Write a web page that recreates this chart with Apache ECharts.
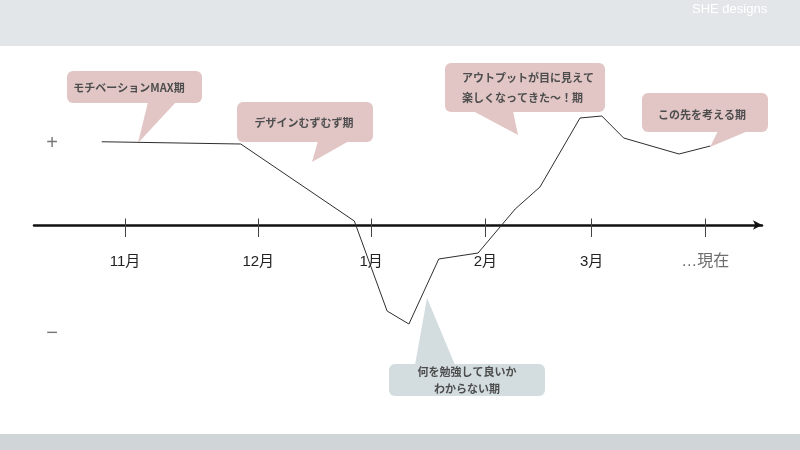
<!DOCTYPE html>
<html><head><meta charset="utf-8">
<script src="https://cdn.jsdelivr.net/npm/echarts@6/dist/echarts.min.js"></script>
<style>html,body{margin:0;padding:0;background:#fff}#chart{width:800px;height:450px}</style>
</head><body><div id="chart"></div>
<script>
// ---- data ----
const monthLabels = ['11月', '12月', '1月', '2月', '3月', '…現在'];
const monthPositions = [12.5, 30.8, 46.3, 62.0, 76.6, 92.2];          // timeline position (0-100)
const curveX = [9.3, 28.4, 44.0, 48.5, 51.5, 55.6, 61.0, 66.1, 69.5, 75.0, 78.0, 81.0, 88.6, 92.9];
const curveY = [3.33, 3.24, 0.16, -3.44, -3.96, -1.36, -1.12, 0.64, 1.52, 4.28, 4.36, 3.48, 2.84, 3.16];
const signLabels = ['+', '−'];
const signValues = [3.28, -4.32];
const signX = 2.5;
const calloutTexts = [
  'モチベーションMAX期',
  'デザインむずむず期',
  'アウトプットが目に見えて\n楽しくなってきた〜！期',
  'この先を考える期',
  '何を勉強して良いか\nわからない期'
];
const brandText = 'SHE designs';

// ---- chart ----
const FONT = '"Liberation Sans", "Noto Sans CJK JP", sans-serif';
const PINK = '#e2c6c6';
const BLUEGRAY = '#d3dcdf';

function callout(box, tail, text, fill, tx, ty, align, lineHeight) {
  return {
    type: 'group', silent: true, z: 10,
    children: [
      { type: 'polygon', shape: { points: tail }, style: { fill: fill } },
      { type: 'rect', shape: { x: box[0], y: box[1], width: box[2], height: box[3], r: 6 }, style: { fill: fill } },
      { type: 'text', style: {
          text: text, x: tx, y: ty, fill: '#4d4d4d',
          font: 'bold 11px "Noto Sans CJK JP", sans-serif',
          textAlign: align, textVerticalAlign: 'middle', lineHeight: lineHeight || 14 } }
    ]
  };
}

const chart = echarts.init(document.getElementById('chart'), null, { renderer: 'canvas' });
chart.setOption({
  animation: false,
  backgroundColor: '#ffffff',
  // the grid covers the positive half; the negative half is drawn below it on the same scale
  grid: { left: 34, right: 38, top: 100, bottom: 225 },
  xAxis: [
    {
      type: 'value', min: 0, max: 100, position: 'bottom',
      splitLine: { show: false },
      axisLine: { show: true, onZero: false, symbol: ['none', 'arrow'], symbolSize: [7, 9],
        lineStyle: { color: '#111', width: 2.5 } },
      axisTick: { show: true, customValues: monthPositions, length: 12, lineStyle: { color: '#444', width: 1 } },
      axisLabel: {
        customValues: monthPositions, margin: 29, fontSize: 15, color: '#222', fontFamily: FONT,
        formatter: function (v) {
          let i = monthPositions.indexOf(v);
          if (i < 0) { i = monthPositions.findIndex(p => Math.abs(p - v) < 0.01); }
          const t = monthLabels[i] || '';
          return i === monthLabels.length - 1 ? '{now|' + t + '}' : t;
        },
        rich: { now: { fontSize: 16, color: '#6e6e6e', fontFamily: FONT, padding: [0, 0, 4, 0] } }
      }
    },
    {
      type: 'value', min: 0, max: 100, position: 'bottom',
      splitLine: { show: false },
      axisLine: { show: false, onZero: false },
      axisTick: { show: true, inside: true, customValues: monthPositions, length: 6.5, lineStyle: { color: '#444', width: 1 } },
      axisLabel: { show: false }
    }
  ],
  yAxis: { type: 'value', min: 0, max: 5, show: false, splitLine: { show: false } },
  series: [
    {
      type: 'line', xAxisIndex: 0, silent: true, symbol: 'none', clip: false,
      lineStyle: { color: '#2e2e2e', width: 1 },
      data: curveX.map((x, i) => [x, curveY[i]]), z: 5
    },
    {
      type: 'scatter', xAxisIndex: 0, silent: true, symbolSize: 1, clip: false,
      itemStyle: { color: 'rgba(255,255,255,0)' },
      data: signValues.map((v) => [signX, v]),
      label: {
        show: true, position: 'inside', color: '#555', fontFamily: FONT,
        formatter: (p) => signLabels[p.dataIndex],
        fontSize: 20
      }
    }
  ],
  graphic: [
    { type: 'rect', silent: true, z: -10, shape: { x: 0, y: 0, width: 800, height: 46 }, style: { fill: '#e3e6e8' } },
    { type: 'rect', silent: true, z: -10, shape: { x: 0, y: 434, width: 800, height: 16 }, style: { fill: '#d0d5d8' } },
    { type: 'text', silent: true, style: { text: brandText, x: 692, y: 9, fill: '#ffffff',
        font: '13px "Liberation Sans", sans-serif', textAlign: 'left', textVerticalAlign: 'middle' } },
    callout([67, 71, 135, 32], [[148, 102], [176, 102], [138, 143]], calloutTexts[0], PINK, 129, 88, 'center'),
    callout([237, 102, 136, 40], [[318, 141], [349, 141], [312, 162]], calloutTexts[1], PINK, 304, 123, 'center'),
    callout([445, 63, 160, 49], [[473, 111], [513, 111], [518, 135]], calloutTexts[2], PINK, 462, 88, 'left', 19.5),
    callout([642, 93, 126, 39], [[718, 131], [748, 131], [710, 147]], calloutTexts[3], PINK, 702, 115, 'center'),
    callout([389, 364, 156, 32], [[415, 365], [455, 365], [427, 298]], calloutTexts[4], BLUEGRAY, 467, 380.5, 'center', 17)
  ]
});
</script>
</body></html>
